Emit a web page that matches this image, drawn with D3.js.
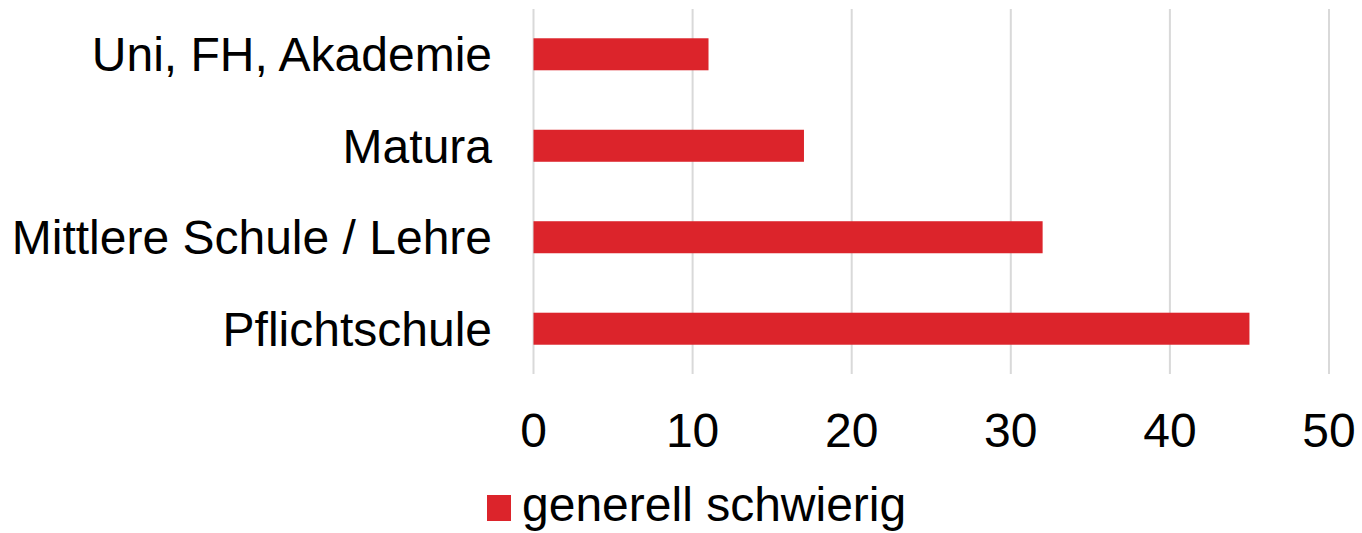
<!DOCTYPE html>
<meta charset="utf-8">
<head>
<style>
body { margin: 0; background: #fff; }
text { font-family: "Liberation Sans", Arial, sans-serif; fill: #000; }
.grid line { stroke: #d9d9d9; stroke-width: 2px; }
</style>
</head>
<body>
<div id="chart"></div>
<script src="https://cdn.jsdelivr.net/npm/d3@7"></script>
<script>
var categories = ["Uni, FH, Akademie", "Matura", "Mittlere Schule / Lehre", "Pflichtschule"];
var values = [11, 17, 32, 45];
var xTicks = [0, 10, 20, 30, 40, 50];
var seriesName = "generell schwierig";
var barColor = "#dc242b";

var width = 1362, height = 533;
var plotLeft = 533.5, plotRight = 1329, plotTop = 9, plotBottom = 374;
var fontSize = 48;

var svg = d3.select("#chart").append("svg")
    .attr("width", width)
    .attr("height", height);

var x = d3.scaleLinear().domain([0, 50]).range([plotLeft, plotRight]);
var y = d3.scaleBand().domain(categories).range([plotTop, plotBottom]).paddingInner(0.65).paddingOuter(0.32);

// vertical gridlines
svg.append("g").attr("class", "grid")
  .selectAll("line")
  .data(xTicks)
  .enter().append("line")
    .attr("x1", function(d) { return x(d); })
    .attr("x2", function(d) { return x(d); })
    .attr("y1", plotTop)
    .attr("y2", plotBottom);

// bars
svg.append("g")
  .selectAll("rect")
  .data(values)
  .enter().append("rect")
    .attr("x", x(0))
    .attr("y", function(d, i) { return y(categories[i]); })
    .attr("width", function(d) { return x(d) - x(0); })
    .attr("height", y.bandwidth())
    .attr("fill", barColor);

// category labels
svg.append("g")
  .selectAll("text")
  .data(categories)
  .enter().append("text")
    .attr("x", 492)
    .attr("y", function(d) { return y(d) + y.bandwidth() / 2; })
    .attr("dy", "0.35em")
    .attr("text-anchor", "end")
    .attr("font-size", fontSize)
    .text(function(d) { return d; });

// x tick labels
svg.append("g")
  .selectAll("text")
  .data(xTicks)
  .enter().append("text")
    .attr("x", function(d) { return x(d); })
    .attr("y", 447)
    .attr("text-anchor", "middle")
    .attr("font-size", fontSize)
    .text(function(d) { return d; });

// legend
var legend = svg.append("g");
legend.append("rect")
    .attr("x", 487).attr("y", 495)
    .attr("width", 24).attr("height", 26)
    .attr("fill", barColor);
legend.append("text")
    .attr("x", 522).attr("y", 521)
    .attr("font-size", fontSize)
    .text(seriesName);
</script>
</body>
